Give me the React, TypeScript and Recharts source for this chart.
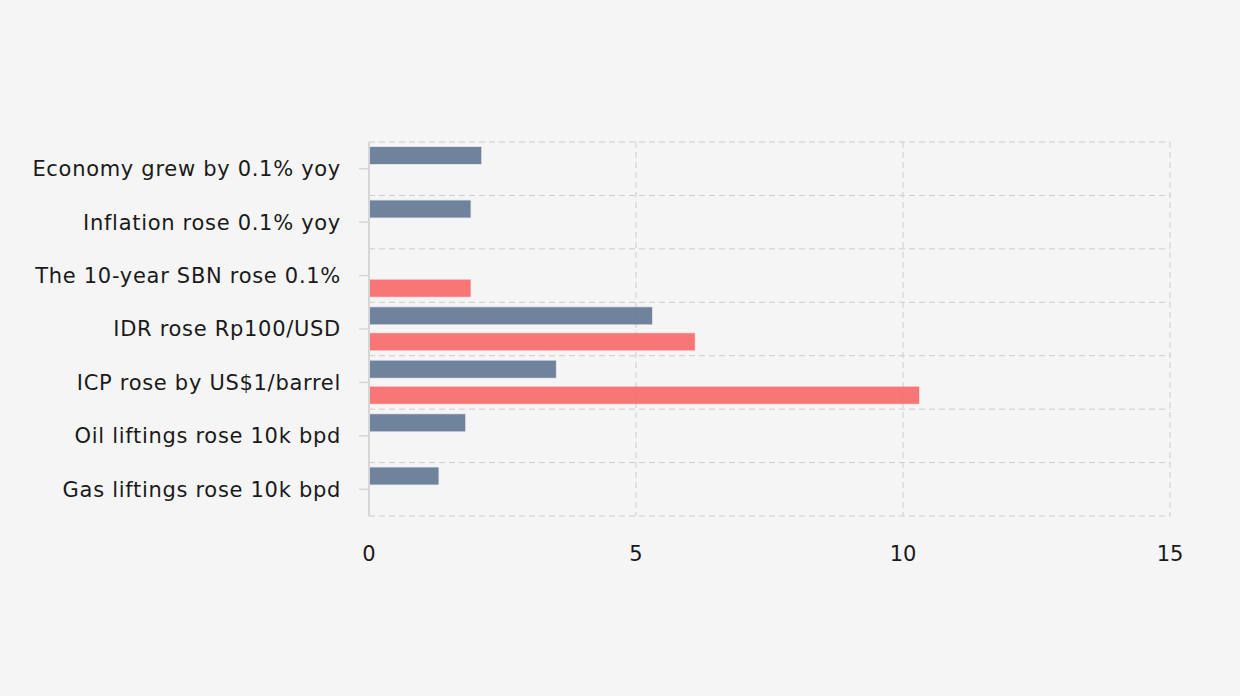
import React from 'react'
import {
  BarChart,
  Bar,
  XAxis,
  YAxis,
  CartesianGrid,
} from 'recharts'

// categories, top to bottom
const categories = [
  'Economy grew by 0.1% yoy',
  'Inflation rose 0.1% yoy',
  'The 10-year SBN rose 0.1%',
  'IDR rose Rp100/USD',
  'ICP rose by US$1/barrel',
  'Oil liftings rose 10k bpd',
  'Gas liftings rose 10k bpd',
]

// blue series (upper bar in each row)
const blueValues: (number | null)[] = [2.1, 1.9, null, 5.3, 3.5, 1.8, 1.3]
// red series (lower bar in each row)
const redValues: (number | null)[] = [null, null, 1.9, 6.1, 10.3, null, null]

const xTicks = [0, 5, 10, 15]

const data = categories.map((name, i) => ({
  name,
  blue: blueValues[i],
  red: redValues[i],
}))

const FONT = '"DejaVu Sans", Verdana, sans-serif'
const tickStyle = { fontSize: 21, fill: '#1a1a1a', fontFamily: FONT, letterSpacing: 0.7 }

export default function App() {
  // grid lines sit on the band edges, not on the category centres
  const horizontalLines = ({ offset }: any) => {
    const step = offset.height / categories.length
    return categories.map((_, i) => offset.top + i * step).concat(offset.top + offset.height)
  }

  return (
    <div style={{ width: 1240, height: 696, background: '#f5f5f5' }}>
      <style>{`body{margin:0}`}</style>
      <BarChart
        width={1240}
        height={696}
        data={data}
        layout="vertical"
        margin={{ top: 142, right: 70, bottom: 150, left: 0 }}
        barCategoryGap={5}
        barGap={9}
      >
        <CartesianGrid
          stroke="#cccccc"
          strokeDasharray="6 4"
          horizontalCoordinatesGenerator={horizontalLines}
        />
        <XAxis
          type="number"
          domain={[0, 15]}
          ticks={xTicks}
          axisLine={false}
          tickLine={false}
          tickSize={0}
          tickMargin={30}
          height={30}
          tick={{ ...tickStyle, letterSpacing: 0 }}
        />
        <YAxis
          type="category"
          dataKey="name"
          width={369}
          axisLine={{ stroke: '#d6d6d6', strokeWidth: 2 }}
          tickLine={{ stroke: '#d6d6d6', strokeWidth: 1.5 }}
          tickSize={10}
          tickMargin={18}
          tick={tickStyle}
        />
        <Bar
          dataKey="blue"
          fill="#647894"
          fillOpacity={0.92}
          stroke="#647894"
          strokeOpacity={0.2}
          strokeWidth={1.5}
          isAnimationActive={false}
        />
        <Bar
          dataKey="red"
          fill="#f86a6a"
          fillOpacity={0.92}
          stroke="#f86a6a"
          strokeOpacity={0.2}
          strokeWidth={1.5}
          isAnimationActive={false}
        />
      </BarChart>
    </div>
  )
}
